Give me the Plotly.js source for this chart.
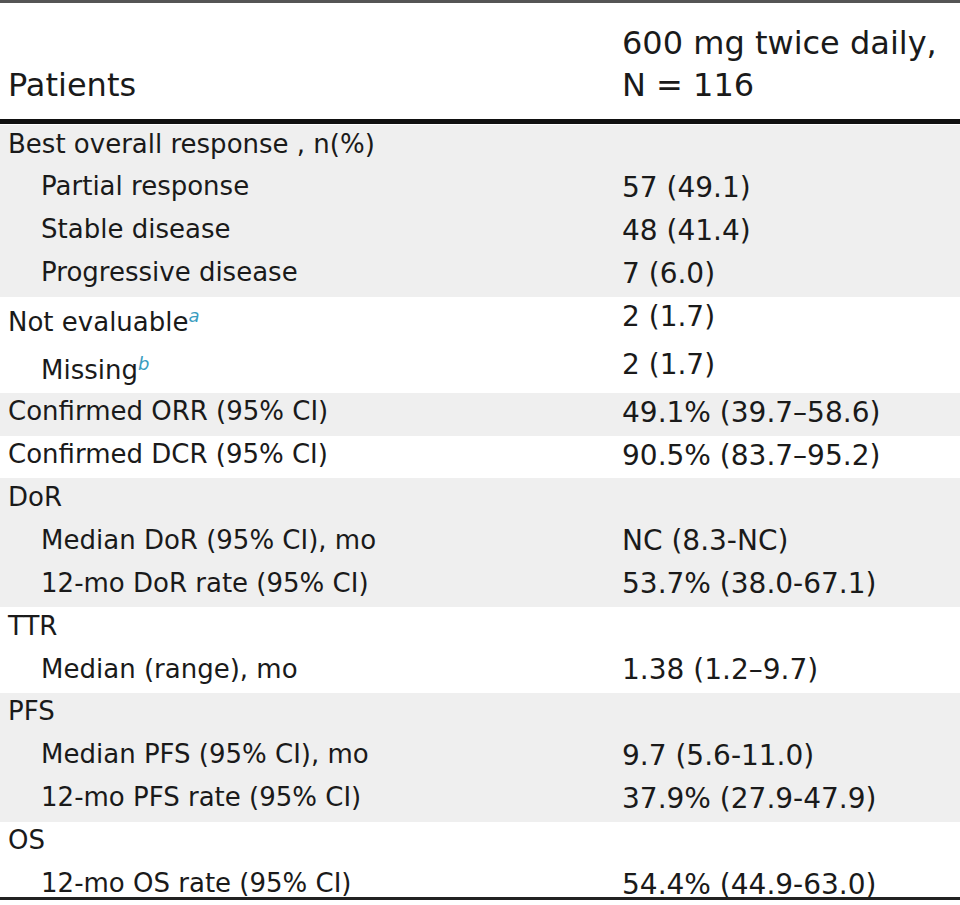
<!DOCTYPE html>
<html>
<head>
<meta charset="utf-8">
<script src="https://cdn.plot.ly/plotly-3.0.1.min.js"></script>
<style>html,body{margin:0;padding:0;background:#fff;}#chart{width:960px;height:905px;}</style>
</head>
<body>
<div id="chart"></div>
<script>
// ---- data ----
var headerLabels = ["\u00a0<br>Patients", "600 mg twice daily,<br>N = 116"];
var SUP = "<a href='#'style='fill:#3a9dbf;font-size:18px;font-style:italic;baseline-shift:9px'>";
var rowLabels = [
  "Best overall response , n(%)",
  "Partial response",
  "Stable disease",
  "Progressive disease",
  "Not evaluable" + SUP + "a</a>",
  "Missing" + SUP + "b</a>",
  "Confirmed ORR (95% CI)",
  "Confirmed DCR (95% CI)",
  "DoR",
  "Median DoR (95% CI), mo",
  "12-mo DoR rate (95% CI)",
  "TTR",
  "Median (range), mo",
  "PFS",
  "Median PFS (95% CI), mo",
  "12-mo PFS rate (95% CI)",
  "OS",
  "12-mo OS rate (95% CI)"
];
var rowValues = [
  "",
  "57 (49.1)",
  "48 (41.4)",
  "7 (6.0)",
  "2 (1.7)",
  "2 (1.7)",
  "49.1% (39.7\u201358.6)",
  "90.5% (83.7\u201395.2)",
  "",
  "NC (8.3-NC)",
  "53.7% (38.0-67.1)",
  "",
  "1.38 (1.2\u20139.7)",
  "",
  "9.7 (5.6-11.0)",
  "37.9% (27.9-47.9)",
  "",
  "54.4% (44.9-63.0)"
];
var rowIndented = [0,1,1,1,0,1,0,0,0,1,1,0,1,0,1,1,0,1];
var rowGroup   = [0,0,0,0,1,1,2,3,4,4,4,5,5,6,6,6,7,7];

// ---- build ----
var INDENT = "\u00a0\u00a0\u00a0\u00a0";
var labels = rowLabels.map(function(t, i){ return (rowIndented[i] ? INDENT : "") + t; });
var fills = rowGroup.map(function(g){ return g % 2 === 0 ? "#efefef" : "#ffffff"; });

var FONT = "DejaVu Sans, sans-serif";
var H = 905;
var trace = {
  type: "table",
  domain: {x: [0, 1], y: [0, 1 - 16/H]},
  columnwidth: [614, 346],
  header: {
    values: headerLabels,
    align: ["left", "left"],
    height: 109,
    fill: {color: "#ffffff"},
    line: {width: 0, color: "rgba(0,0,0,0)"},
    font: {family: FONT, size: 32, color: "#1a1a1a"}
  },
  cells: {
    values: [labels, rowValues],
    align: ["left", "left"],
    height: 42.9,
    fill: {color: [fills, fills]},
    line: {width: 0, color: "rgba(0,0,0,0)"},
    font: {family: FONT, size: [26, 28], color: "#1a1a1a"}
  }
};

var layout = {
  width: 960, height: H,
  margin: {l: 0, r: 0, t: 0, b: 0},
  paper_bgcolor: "#ffffff",
  showlegend: false,
  shapes: [
    {type: "rect", xref: "paper", yref: "paper", x0: 0, x1: 1, y0: 1 - 3/H, y1: 1, fillcolor: "#555555", line: {width: 0}, layer: "above"},
    {type: "rect", xref: "paper", yref: "paper", x0: 0, x1: 1, y0: 1 - 124/H, y1: 1 - 119/H, fillcolor: "#111111", line: {width: 0}, layer: "above"},
    {type: "rect", xref: "paper", yref: "paper", x0: 0, x1: 1, y0: 1 - 900/H, y1: 1 - 897/H, fillcolor: "#222222", line: {width: 0}, layer: "above"}
  ]
};

Plotly.newPlot("chart", [trace], layout, {displayModeBar: false, staticPlot: true});
</script>
</body>
</html>
